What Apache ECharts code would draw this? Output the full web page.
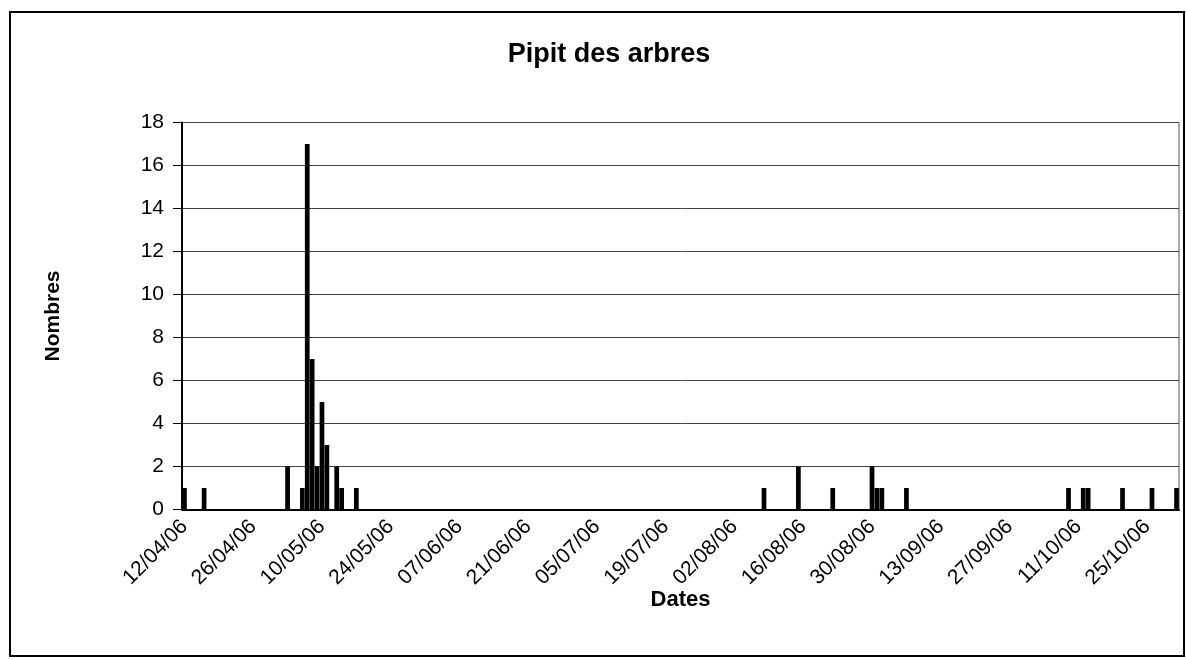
<!DOCTYPE html>
<html>
<head>
<meta charset="utf-8">
<title>Pipit des arbres</title>
<script src="https://cdn.jsdelivr.net/npm/echarts@6/dist/echarts.min.js"></script>
<style>
  html, body { margin: 0; padding: 0; background: #fff; }
  #chart { width: 1186px; height: 660px; }
</style>
</head>
<body>
<div id="chart"></div>
<script>
// jours d'observation et nombres
const dates = [
  '12/04/06', '16/04/06', '03/05/06', '06/05/06', '07/05/06', '08/05/06',
  '09/05/06', '10/05/06', '11/05/06', '13/05/06', '14/05/06', '17/05/06',
  '08/08/06', '15/08/06', '22/08/06', '30/08/06', '31/08/06', '01/09/06',
  '06/09/06', '09/10/06', '12/10/06', '13/10/06', '20/10/06', '26/10/06',
  '31/10/06'
]
const counts = [
  1, 1, 2, 1, 17, 7,
  2, 5, 3, 2, 1, 1,
  1, 2, 1, 2, 1, 1,
  1, 1, 1, 1, 1, 1,
  1
]
const yTicks = [0, 2, 4, 6, 8, 10, 12, 14, 16, 18]

const font = 'Liberation Sans, Arial, sans-serif'

function parseDate(s) {
  const p = s.split('/')
  return new Date(2000 + Number(p[2]), Number(p[1]) - 1, Number(p[0]))
}
function fmt(d) {
  const dd = String(d.getDate()).padStart(2, '0')
  const mm = String(d.getMonth() + 1).padStart(2, '0')
  const yy = String(d.getFullYear() % 100).padStart(2, '0')
  return dd + '/' + mm + '/' + yy
}

// axe des dates : un jour par categorie, du premier au dernier releve
const days = []
const end = parseDate(dates[dates.length - 1])
for (let d = parseDate(dates[0]); d <= end; d.setDate(d.getDate() + 1)) {
  days.push(fmt(d))
}

const chart = echarts.init(document.getElementById('chart'))
chart.setOption({
  animation: false,
  backgroundColor: '#fff',
  title: {
    text: 'Pipit des arbres',
    left: 604,
    top: 36,
    textAlign: 'center',
    textStyle: { fontFamily: font, fontSize: 27, fontWeight: 'bold', color: '#000' }
  },
  graphic: [{
    type: 'rect',
    shape: { x: 10, y: 12, width: 1174, height: 644 },
    style: { fill: null, stroke: '#000', lineWidth: 2 },
    silent: true
  }],
  grid: {
    left: 182,
    right: 7,
    top: 122.5,
    bottom: 150.5,
    show: true,
    borderColor: '#555',
    borderWidth: 1
  },
  xAxis: {
    type: 'category',
    data: days,
    boundaryGap: true,
    name: 'Dates',
    nameLocation: 'middle',
    nameGap: 79,
    nameMoveOverlap: false,
    nameTextStyle: { fontFamily: font, fontSize: 22, fontWeight: 'bold', color: '#000' },
    axisLine: { lineStyle: { color: '#000', width: 2 } },
    axisTick: { interval: 13, length: 8, lineStyle: { color: '#000' } },
    axisLabel: {
      interval: 13,
      rotate: 45,
      margin: 14,
      fontFamily: font,
      fontSize: 21,
      color: '#000'
    },
    splitLine: { show: false }
  },
  yAxis: {
    type: 'value',
    min: yTicks[0],
    max: yTicks[yTicks.length - 1],
    interval: yTicks[1] - yTicks[0],
    name: 'Nombres',
    nameLocation: 'middle',
    nameGap: 118,
    nameRotate: 90,
    nameMoveOverlap: false,
    nameTextStyle: { fontFamily: font, fontSize: 21, fontWeight: 'bold', color: '#000' },
    axisLine: { show: true, lineStyle: { color: '#000', width: 2 } },
    axisTick: { show: true, length: 9, lineStyle: { color: '#000' } },
    axisLabel: { margin: 18, fontFamily: font, fontSize: 21, color: '#000' },
    splitLine: { lineStyle: { color: '#444', width: 1 } }
  },
  series: [{
    name: 'Pipit des arbres',
    type: 'bar',
    barWidth: '96%',
    itemStyle: { color: '#000' },
    data: dates.map((d, i) => [d, counts[i]])
  }]
})
</script>
</body>
</html>
